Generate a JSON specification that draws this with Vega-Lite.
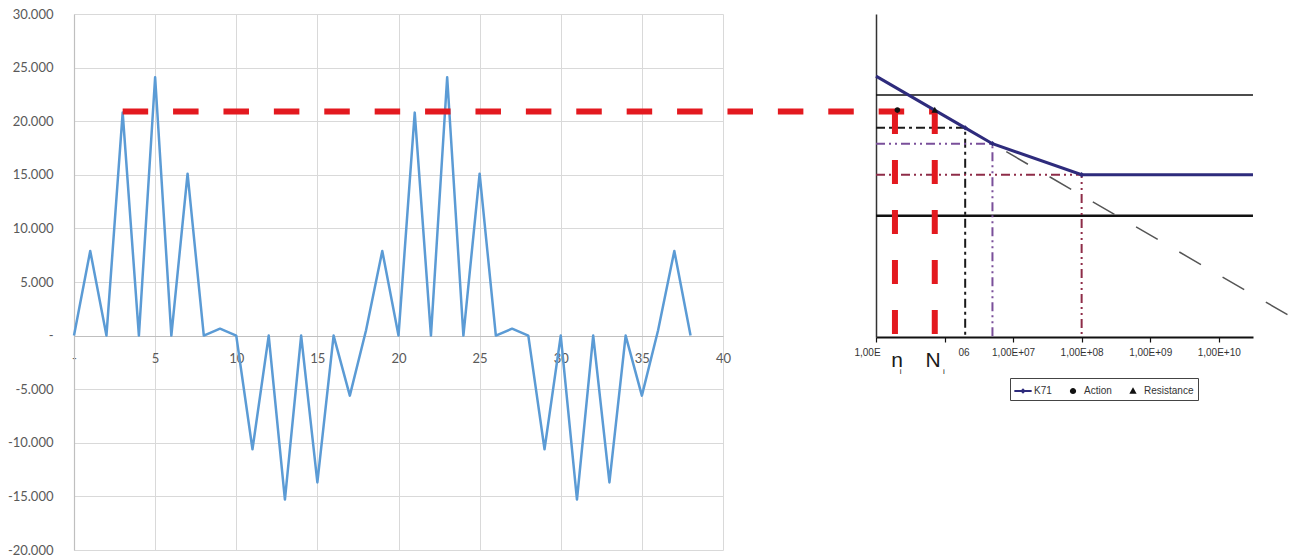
{
  "$schema": "https://vega.github.io/schema/vega-lite/v6.json",
  "width": 1290,
  "height": 564,
  "autosize": {"type": "none"},
  "padding": 0,
  "background": "white",
  "config": {"view": {"stroke": null}, "font": "Liberation Sans"},
  "datasets": {
    "series": [
      {"t": 0, "v": 0}, {"t": 1, "v": 7900}, {"t": 2, "v": 0}, {"t": 3, "v": 20800}, {"t": 4, "v": 0},
      {"t": 5, "v": 24100}, {"t": 6, "v": 0}, {"t": 7, "v": 15100}, {"t": 8, "v": 0}, {"t": 9, "v": 650},
      {"t": 10, "v": 0}, {"t": 11, "v": -10600}, {"t": 12, "v": 0}, {"t": 13, "v": -15300}, {"t": 14, "v": 0},
      {"t": 15, "v": -13700}, {"t": 16, "v": 0}, {"t": 17, "v": -5600}, {"t": 18, "v": 500}, {"t": 19, "v": 7900},
      {"t": 20, "v": 0}, {"t": 21, "v": 20800}, {"t": 22, "v": 0}, {"t": 23, "v": 24100}, {"t": 24, "v": 0},
      {"t": 25, "v": 15100}, {"t": 26, "v": 0}, {"t": 27, "v": 650}, {"t": 28, "v": 0}, {"t": 29, "v": -10600},
      {"t": 30, "v": 0}, {"t": 31, "v": -15300}, {"t": 32, "v": 0}, {"t": 33, "v": -13700}, {"t": 34, "v": 0},
      {"t": 35, "v": -5600}, {"t": 36, "v": 500}, {"t": 37, "v": 7900}, {"t": 38, "v": 0}
    ],
    "ref": [{"t": 3, "v": 20900}, {"t": 53, "v": 20900}],
    "sn": [
      {"curve": "K71", "N": 100000, "S": 192.7, "o": 0},
      {"curve": "K71", "N": 2000000, "S": 71, "o": 1},
      {"curve": "K71", "N": 5000000, "S": 52.3, "o": 2},
      {"curve": "K71", "N": 100000000, "S": 28.7, "o": 3},
      {"curve": "K71", "N": 31600000000, "S": 28.7, "o": 4},
      {"curve": "ext", "N": 5000000, "S": 52.3, "o": 0},
      {"curve": "ext", "N": 200000000000, "S": 1.53, "o": 1},
      {"curve": "C", "N": 100000, "S": 71, "o": 0},
      {"curve": "C", "N": 2000000, "S": 71, "o": 1},
      {"curve": "C", "N": 2000000, "S": 1.25, "o": 2},
      {"curve": "D", "N": 100000, "S": 52.3, "o": 0},
      {"curve": "D", "N": 5000000, "S": 52.3, "o": 1},
      {"curve": "D", "N": 5000000, "S": 1.25, "o": 2},
      {"curve": "L", "N": 100000, "S": 28.7, "o": 0},
      {"curve": "L", "N": 100000000, "S": 28.7, "o": 1},
      {"curve": "L", "N": 100000000, "S": 1.25, "o": 2},
      {"curve": "ni", "N": 189000, "S": 100, "o": 0},
      {"curve": "ni", "N": 189000, "S": 1.25, "o": 1},
      {"curve": "Ni", "N": 720000, "S": 100, "o": 0},
      {"curve": "Ni", "N": 720000, "S": 1.25, "o": 1},
      {"curve": "upper", "N": 100000, "S": 134, "o": 0},
      {"curve": "upper", "N": 31600000000, "S": 134, "o": 1},
      {"curve": "lower", "N": 100000, "S": 13, "o": 0},
      {"curve": "lower", "N": 31600000000, "S": 13, "o": 1}
    ],
    "pts": [
      {"series": "Action", "N": 205000, "S": 100},
      {"series": "Resistance", "N": 720000, "S": 100}
    ],
    "nodes": [
      {"N": 2000000, "S": 71},
      {"N": 5000000, "S": 52.3},
      {"N": 100000000, "S": 28.7}
    ],
    "labels": [
      {"N": 203000, "S": 1.25, "txt": "n", "kind": "big"},
      {"N": 678000, "S": 1.25, "txt": "N", "kind": "big"},
      {"N": 229000, "S": 1.25, "txt": "i", "kind": "sub"},
      {"N": 980000, "S": 1.25, "txt": "i", "kind": "sub"}
    ]
  },
  "layer": [
    {
      "encoding": {
        "x": {
          "field": "t", "type": "quantitative",
          "scale": {"domain": [0, 40], "range": [74, 723], "nice": false, "zero": false},
          "axis": {
            "orient": "bottom", "offset": -228, "title": null,
            "values": [0, 5, 10, 15, 20, 25, 30, 35, 40],
            "grid": true, "gridColor": "#d9d9d9", "gridWidth": 1,
            "domainColor": "#bfbfbf", "domainWidth": 1.2,
            "ticks": false, "tickSize": 0, "labelPadding": 16,
            "labelFont": "Lato", "labelFontSize": 13, "labelColor": "#595959",
            "labelFlush": false, "labelOverlap": false,
            "labelExpr": "datum.value == 0 ? '-    ' : datum.label"
          }
        },
        "y": {
          "field": "v", "type": "quantitative",
          "scale": {"domain": [-20000, 30000], "range": [550, 14], "nice": false, "zero": false},
          "axis": {
            "orient": "left", "offset": -74, "title": null,
            "values": [-20000, -15000, -10000, -5000, 0, 5000, 10000, 15000, 20000, 25000, 30000],
            "grid": true, "gridColor": "#d9d9d9", "gridWidth": 1,
            "domainColor": "#bfbfbf", "domainWidth": 1.2,
            "ticks": false, "tickSize": 0, "labelPadding": 21,
            "labelFont": "Lato", "labelFontSize": 13, "labelColor": "#595959",
            "labelFlush": false, "labelOverlap": false,
            "labelExpr": "datum.value == 0 ? '-   ' : (datum.value < 0 ? '-' : '') + replace(format(abs(datum.value), ','), ',', '.')"
          }
        }
      },
      "layer": [
        {
          "data": {"name": "series"},
          "mark": {"type": "line", "color": "#5b9bd5", "strokeWidth": 2.5, "strokeJoin": "round"}
        },
        {
          "data": {"name": "ref"},
          "mark": {"type": "line", "color": "#e3191f", "strokeWidth": 6, "strokeDash": [25.5, 24.9], "strokeCap": "butt"}
        }
      ]
    },
    {
      "encoding": {
        "x": {
          "field": "N", "type": "quantitative",
          "scale": {"type": "log", "domain": [100000, 31622776601], "range": [876, 1253], "nice": false},
          "axis": {
            "orient": "bottom", "offset": -227, "title": null,
            "values": [100000, 1000000, 10000000, 100000000, 1000000000, 10000000000],
            "grid": false, "tickSize": 5, "tickColor": "#111111", "tickWidth": 1.2,
            "domainColor": "#111111", "domainWidth": 2,
            "labelPadding": 5, "labelFont": "Liberation Sans", "labelFontSize": 10, "labelColor": "#333333",
            "labelFlush": false, "labelOverlap": false,
            "labelExpr": "datum.value < 5e5 ? '1,00E' : datum.value < 5e6 ? '06' : datum.value < 5e7 ? '1,00E+07' : datum.value < 5e8 ? '1,00E+08' : datum.value < 5e9 ? '1,00E+09' : '1,00E+10'",
            "labelOffset": {"condition": [{"test": "datum.value < 5e5", "value": -9}, {"test": "datum.value < 5e6", "value": 19}], "value": 0}
          }
        },
        "y": {
          "field": "S", "type": "quantitative",
          "scale": {"type": "log", "domain": [1.25, 640], "range": [337, 14], "nice": false},
          "axis": {
            "orient": "left", "offset": -876, "title": null,
            "labels": false, "ticks": false, "grid": false,
            "domainColor": "#333333", "domainWidth": 1.5
          }
        }
      },
      "layer": [
        {
          "data": {"name": "sn"},
          "transform": [{"filter": "datum.curve == 'upper'"}],
          "mark": {"type": "line", "color": "#111111", "strokeWidth": 1.4},
          "encoding": {"order": {"field": "o", "type": "quantitative"}}
        },
        {
          "data": {"name": "sn"},
          "transform": [{"filter": "datum.curve == 'lower'"}],
          "mark": {"type": "line", "color": "#111111", "strokeWidth": 2.6},
          "encoding": {"order": {"field": "o", "type": "quantitative"}}
        },
        {
          "data": {"name": "sn"},
          "transform": [{"filter": "datum.curve == 'C'"}],
          "mark": {"type": "line", "color": "#1a1a1a", "strokeWidth": 2, "strokeDash": [9, 4, 3, 4]},
          "encoding": {"order": {"field": "o", "type": "quantitative"}}
        },
        {
          "data": {"name": "sn"},
          "transform": [{"filter": "datum.curve == 'D'"}],
          "mark": {"type": "line", "color": "#7a4f9a", "strokeWidth": 2, "strokeDash": [9, 4, 2, 4, 2, 4]},
          "encoding": {"order": {"field": "o", "type": "quantitative"}}
        },
        {
          "data": {"name": "sn"},
          "transform": [{"filter": "datum.curve == 'L'"}],
          "mark": {"type": "line", "color": "#8e2c48", "strokeWidth": 2, "strokeDash": [9, 4, 2, 4, 2, 4]},
          "encoding": {"order": {"field": "o", "type": "quantitative"}}
        },
        {
          "data": {"name": "sn"},
          "transform": [{"filter": "datum.curve == 'ext'"}],
          "mark": {"type": "line", "color": "#555555", "strokeWidth": 1.5, "strokeDash": [25, 25], "strokeDashOffset": 34},
          "encoding": {"order": {"field": "o", "type": "quantitative"}}
        },
        {
          "data": {"name": "sn"},
          "transform": [{"filter": "datum.curve == 'ni' || datum.curve == 'Ni'"}],
          "mark": {"type": "line", "color": "#e3191f", "strokeWidth": 6, "strokeDash": [24, 26], "strokeCap": "butt"},
          "encoding": {"order": {"field": "o", "type": "quantitative"}, "detail": {"field": "curve"}}
        },
        {
          "data": {"name": "sn"},
          "transform": [{"filter": "datum.curve == 'K71'"}],
          "mark": {"type": "line", "color": "#2e2b7c", "strokeWidth": 3},
          "encoding": {"order": {"field": "o", "type": "quantitative"}}
        },
        {
          "data": {"name": "nodes"},
          "mark": {"type": "point", "shape": "diamond", "filled": true, "size": 28, "color": "#2e2b7c", "opacity": 1}
        },
        {
          "data": {"name": "pts"},
          "mark": {"type": "point", "filled": true, "size": 250, "opacity": 1, "strokeWidth": 0},
          "encoding": {
            "shape": {
              "field": "series", "type": "nominal",
              "scale": {
                "domain": ["K71", "Action", "Resistance"],
                "range": [
                  "M-1,-0.11L1,-0.11L1,0.11L-1,0.11Z M0,-0.32L0.32,0L0,0.32L-0.32,0Z",
                  "M0.36,0A0.36,0.36,0,1,1,-0.36,0A0.36,0.36,0,1,1,0.36,0Z",
                  "M0,-0.42L0.42,0.32L-0.42,0.32Z"
                ]
              },
              "legend": {
                "orient": "none", "legendX": 1010, "legendY": 378, "direction": "horizontal", "title": null,
                "labelFont": "Liberation Sans", "labelFontSize": 10, "labelColor": "#333333",
                "symbolSize": 300, "symbolStrokeWidth": 0, "columnPadding": 12, "labelOffset": 2,
                "padding": 4, "strokeColor": "#444444", "fillColor": "#ffffff"
              }
            },
            "color": {
              "field": "series", "type": "nominal",
              "scale": {"domain": ["K71", "Action", "Resistance"], "range": ["#2e2b7c", "#111111", "#111111"]},
              "legend": {
                "orient": "none", "legendX": 1010, "legendY": 378, "direction": "horizontal", "title": null,
                "labelFont": "Liberation Sans", "labelFontSize": 10, "labelColor": "#333333",
                "symbolSize": 300, "symbolStrokeWidth": 0, "columnPadding": 12, "labelOffset": 2,
                "padding": 4, "strokeColor": "#444444", "fillColor": "#ffffff"
              }
            }
          }
        },
        {
          "data": {"name": "labels"},
          "transform": [{"filter": "datum.kind == 'big'"}],
          "mark": {"type": "text", "font": "Liberation Sans", "fontSize": 21, "color": "#1a1a1a", "dy": 24, "baseline": "middle", "align": "center"},
          "encoding": {"text": {"field": "txt"}}
        },
        {
          "data": {"name": "labels"},
          "transform": [{"filter": "datum.kind == 'sub'"}],
          "mark": {"type": "text", "font": "Liberation Sans", "fontSize": 8, "color": "#1a1a1a", "dy": 35, "baseline": "middle", "align": "center"},
          "encoding": {"text": {"field": "txt"}}
        }
      ]
    }
  ],
  "resolve": {"scale": {"x": "independent", "y": "independent", "color": "independent", "shape": "independent"}}
}
